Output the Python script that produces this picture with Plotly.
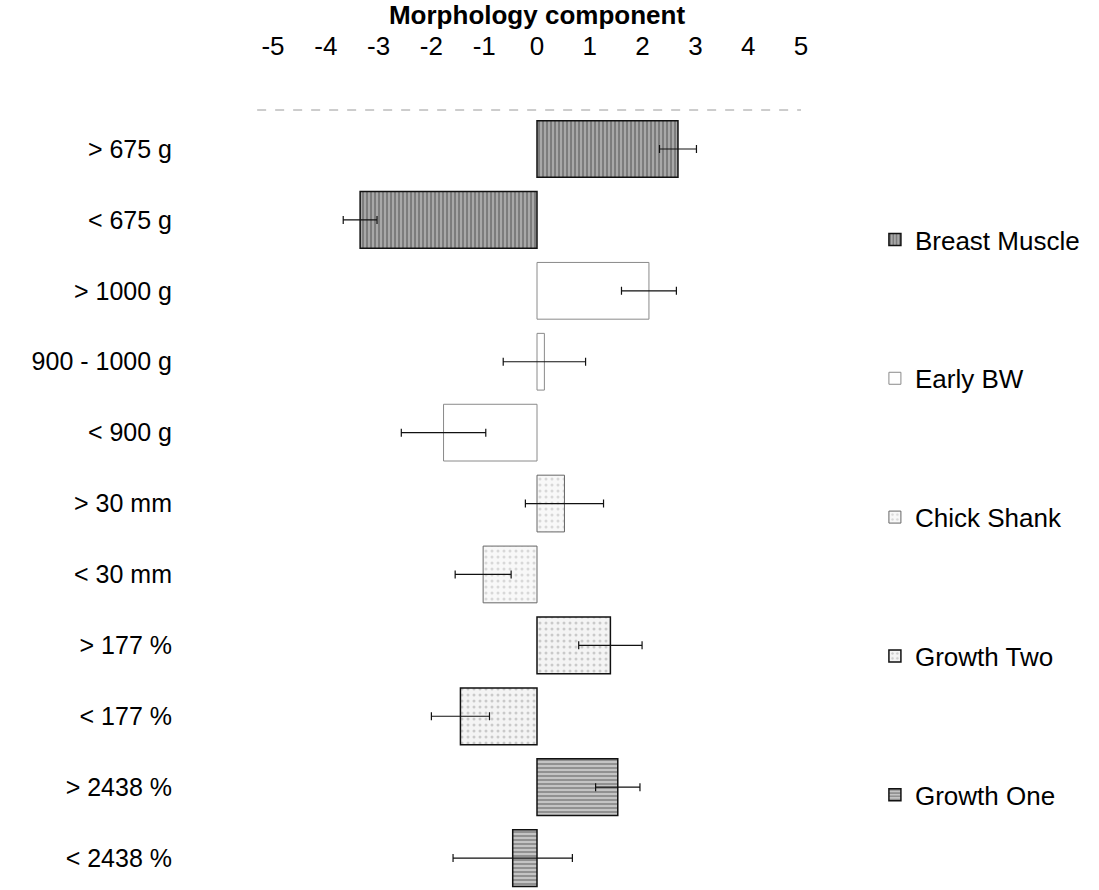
import plotly.graph_objects as go

# ---- data ----
categories = ["> 675 g", "< 675 g", "> 1000 g", "900 - 1000 g", "< 900 g",
              "> 30 mm", "< 30 mm", "> 177 %", "< 177 %", "> 2438 %", "< 2438 %"]

breast_cats = ["> 675 g", "< 675 g"]
breast_vals = [2.67, -3.35]
breast_err = [0.35, 0.32]

early_cats = ["> 1000 g", "900 - 1000 g", "< 900 g"]
early_vals = [2.12, 0.14, -1.77]
early_err = [0.52, 0.78, 0.80]

shank_cats = ["> 30 mm", "< 30 mm"]
shank_vals = [0.52, -1.02]
shank_err = [0.74, 0.53]

g2_cats = ["> 177 %", "< 177 %"]
g2_vals = [1.39, -1.45]
g2_err = [0.60, 0.55]

g1_cats = ["> 2438 %", "< 2438 %"]
g1_vals = [1.53, -0.46]
g1_err = [0.42, 1.13]

tick_vals = [-5, -4, -3, -2, -1, 0, 1, 2, 3, 4, 5]
tick_text = ["-5", "-4", "-3", "-2", "-1", "0", "1", "2", "3", "4", "5"]

FONT = "Liberation Sans, Arial, sans-serif"

series = [
    ("Breast Muscle", breast_cats, breast_vals, breast_err,
     dict(color="#a0a0a0", line=dict(color="#111", width=1.5),
          pattern=dict(shape="|", bgcolor="#a8a8a8", fgcolor="#3a3a3a", size=4, solidity=0.4))),
    ("Early BW", early_cats, early_vals, early_err,
     dict(color="white", line=dict(color="#8a8a8a", width=1))),
    ("Chick Shank", shank_cats, shank_vals, shank_err,
     dict(color="#f6f6f6", line=dict(color="#666", width=1),
          pattern=dict(shape=".", bgcolor="#f8f8f8", fgcolor="#b8b8b8", size=6, solidity=0.2))),
    ("Growth Two", g2_cats, g2_vals, g2_err,
     dict(color="#f2f2f2", line=dict(color="#111", width=1.5),
          pattern=dict(shape=".", bgcolor="#f4f4f4", fgcolor="#a0a0a0", size=6, solidity=0.2))),
    ("Growth One", g1_cats, g1_vals, g1_err,
     dict(color="#909090", line=dict(color="#111", width=1.5),
          pattern=dict(shape="-", bgcolor="#c4c4c4", fgcolor="#5e5e5e", size=4, solidity=0.5))),
]

fig = go.Figure()
for i, (name, cats, vals, errs, marker) in enumerate(series):
    fig.add_trace(go.Bar(
        name=name, y=cats, x=vals, orientation="h", width=0.8,
        marker=marker, legendgroup=name,
        error_x=dict(type="data", array=errs, visible=True,
                     color="#111", thickness=1.2, width=4),
    ))

fig.update_layout(
    width=1099, height=890,
    margin=dict(l=273, r=298, t=110, b=0),
    paper_bgcolor="white", plot_bgcolor="white",
    barmode="overlay",
    font=dict(family=FONT, color="black"),
    showlegend=True,
    legend=dict(x=1.14, xanchor="left", y=0.864, yanchor="top",
                font=dict(size=26, family=FONT), tracegroupgap=102,
                traceorder="grouped", bgcolor="rgba(0,0,0,0)"),
    xaxis=dict(side="top", range=[-5, 5], tickvals=tick_vals, ticktext=tick_text,
               tickfont=dict(size=26, family=FONT), showgrid=False, zeroline=False,
               showline=False, ticks="", ticklabelstandoff=49,
               title=dict(text="<b>Morphology component</b>", font=dict(size=26, family=FONT),
                          standoff=1)),
    yaxis=dict(categoryorder="array", categoryarray=categories, type="category",
               range=[10.45, -0.55], tickfont=dict(size=25, family=FONT),
               showgrid=False, zeroline=False, showline=False, ticks="",
               ticklabelstandoff=100),
    shapes=[dict(type="line", xref="paper", yref="paper", x0=-0.03, x1=1.0, y0=1.0, y1=1.0,
                 line=dict(color="#9a9a9a", width=1, dash="dash"))],
)

fig.write_html("out.html")
